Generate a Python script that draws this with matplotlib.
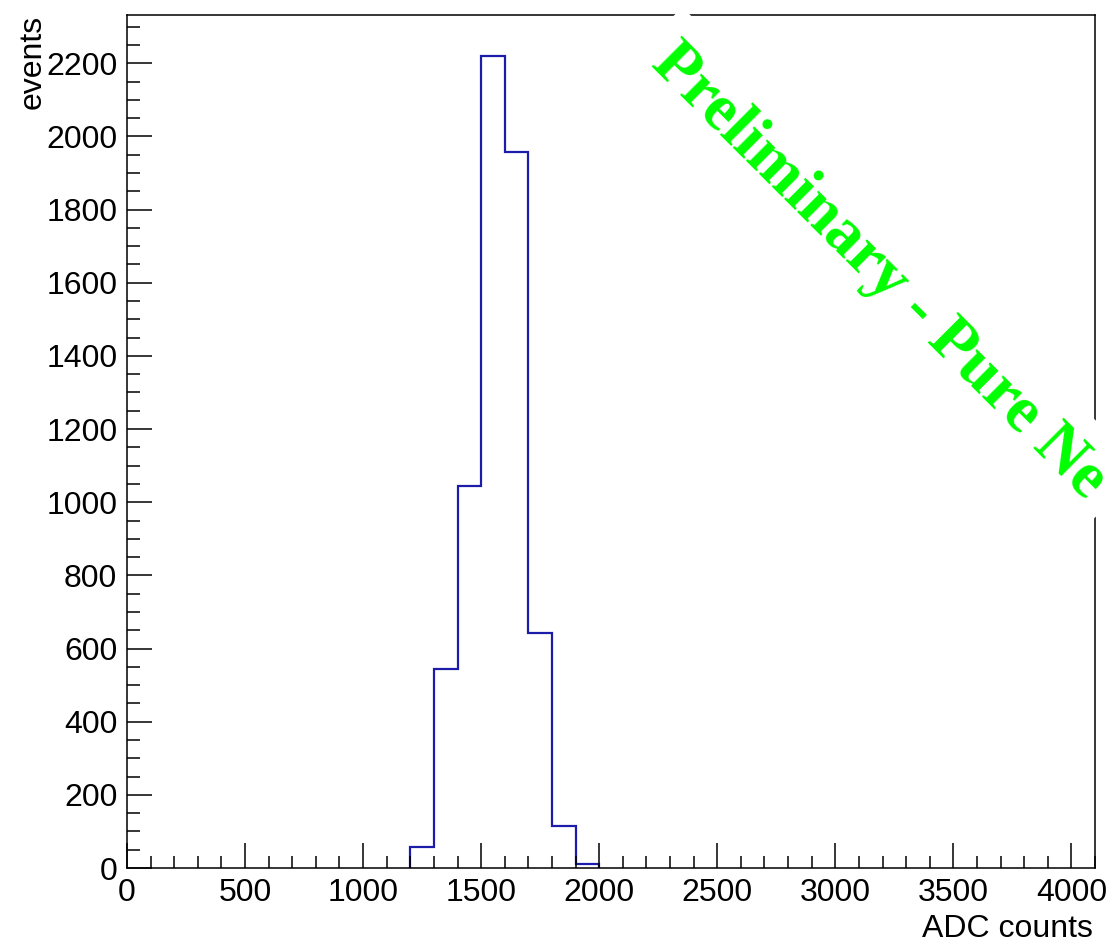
import matplotlib.pyplot as plt
from matplotlib.ticker import MultipleLocator
from matplotlib import rcParams

config = {"font.family": 'Liberation Sans', "font.size": 23}
rcParams.update(config)

# ADC spectrum, 100-count bins
bin_edges = [1200, 1300, 1400, 1500, 1600, 1700, 1800, 1900, 2000]
bin_counts = [57, 545, 1044, 2221, 1957, 642, 115, 12]

xmax = 4100
ymax = max(bin_counts) * 1.05

fig = plt.figure(figsize=(11.10, 9.43), dpi=100)
ax = fig.add_axes([127 / 1110, 1 - 868 / 943, (1095 - 127) / 1110, (868 - 15) / 943])

ax.stairs(bin_counts, bin_edges, color='#1c1caa', linewidth=1.6)

ax.set_xlim(0, xmax)
ax.set_ylim(0, ymax)
ax.xaxis.set_major_locator(MultipleLocator(500))
ax.xaxis.set_minor_locator(MultipleLocator(100))
ax.yaxis.set_major_locator(MultipleLocator(200))
ax.yaxis.set_minor_locator(MultipleLocator(50))
ax.tick_params(which='both', direction='in', top=False, right=False,
               width=1.1, color='k')
ax.tick_params(which='major', length=18, pad=7)
ax.tick_params(which='minor', length=9)
for sp in ax.spines.values():
    sp.set_linewidth(1.1)

fig.text(1093 / 1110, 1 - 937 / 943, 'ADC counts', ha='right', va='baseline')
fig.text(33 / 1110, 1 - 15 / 943, 'events', rotation=90, ha='center', va='top')

# watermark, white box knocks out the frame where it crosses
fig.text(879 / 1110, 1 - 272 / 943, 'Preliminary - Pure Ne',
         family='Liberation Serif', weight='bold', size=47, color='#00ff00',
         rotation=-45, rotation_mode='anchor', ha='center', va='center',
         zorder=5,
         bbox=dict(boxstyle='square,pad=0.28', fc='white', ec='none'))

fig.savefig('out.png', dpi=100)
